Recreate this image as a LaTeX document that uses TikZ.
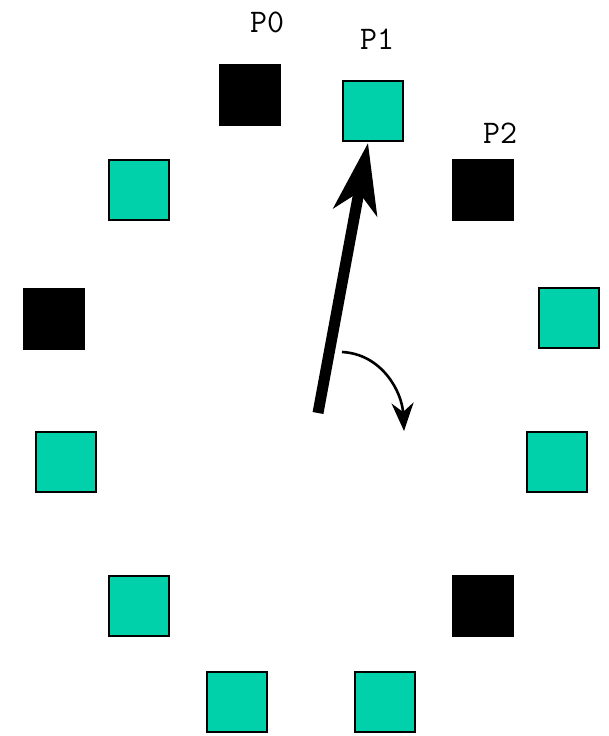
\documentclass[tikz,border=0pt]{standalone}
\usetikzlibrary{arrows.meta}
\definecolor{slotteal}{RGB}{0,209,170}
\begin{document}
\begin{tikzpicture}[x=1pt,y=-1pt,
  slot/.style={draw=black,line width=2.6pt,minimum size=60pt,inner sep=0pt,fill=slotteal},
  taken/.style={slot,fill=black},
  plabel/.style={font=\ttfamily\fontsize{33}{33}\selectfont,inner sep=0pt}]
\useasboundingbox (0,0) rectangle (609,736);
% ring of slots
\node[taken] (s0)  at (250,95)  {};
\node[slot]  (s1)  at (373,111) {};
\node[taken] (s2)  at (483,190) {};
\node[slot]  (s3)  at (569,318) {};
\node[slot]  (s4)  at (557,462) {};
\node[taken] (s5)  at (483,606) {};
\node[slot]  (s6)  at (385,702) {};
\node[slot]  (s7)  at (237,702) {};
\node[slot]  (s8)  at (139,606) {};
\node[slot]  (s9)  at (66,462)  {};
\node[taken] (s10) at (54,319)  {};
\node[slot]  (s11) at (139,190) {};
% labels
\node[plabel] (l0) at (267,22)  {P0};
\node[plabel] (l1) at (377,39)  {P1};
\node[plabel] (l2) at (500,133) {P2};
% pointer
\coordinate (hub) at (318,413);
\coordinate (tip) at (368,143);
\draw[line width=11pt,-{Stealth[length=70pt,width=44pt,inset=20pt]}] (hub) -- (tip);
% direction of rotation
\coordinate (rs) at (342,352);
\coordinate (re) at (404,431);
\draw[line width=2.6pt,-{Stealth[length=28pt,width=22pt,inset=9pt]}]
  (rs) .. controls (382,354) and (402,392) .. (re);
\end{tikzpicture}
\end{document}
